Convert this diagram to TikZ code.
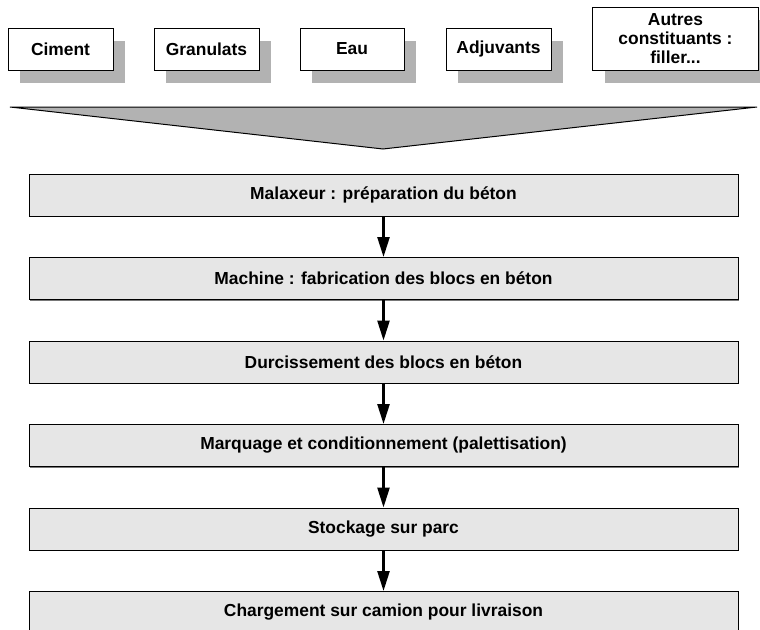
\documentclass[tikz,border=0pt]{standalone}
\usepackage{fontspec}
\setmainfont{Liberation Sans}
\usetikzlibrary{arrows.meta,shadows}
\definecolor{shadowgray}{RGB}{178,178,178}
\definecolor{stepfill}{RGB}{230,230,230}
\definecolor{edgegray}{RGB}{120,120,120}
\tikzset{
  inbox/.style={draw=black, line width=1pt, fill=white, align=center,
    inner sep=0pt, minimum height=42pt,
    font=\fontsize{17.4}{19}\selectfont\bfseries,
    general shadow={shadow xshift=12pt, shadow yshift=-13pt, fill=shadowgray}},
  stepbox/.style={draw=black, line width=1pt, fill=stepfill, align=center,
    inner sep=0pt, minimum width=709pt, minimum height=42pt,
    font=\fontsize{17.4}{19}\selectfont\bfseries,
    general shadow={shadow xshift=1.2pt, shadow yshift=-1.2pt, fill=edgegray}},
  flow/.style={line width=2.5pt, -{Triangle[width=12pt,length=20pt]}},
  funnel/.style={draw=black, line width=1pt, fill=shadowgray}
}
\begin{document}
\begin{tikzpicture}[x=1pt,y=-1pt]
\useasboundingbox (0,0) rectangle (760,629);
% input boxes
\node[inbox, minimum width=105pt] (ci) at (60.5,49) {Ciment};
\node[inbox, minimum width=105pt] (gr) at (206.5,49) {Granulats};
\node[inbox, minimum width=104pt] (ea) at (352,49) {Eau};
\node[inbox, minimum width=105pt] (ad) at (498.5,49) {Adjuvants};
\node[inbox, minimum width=166pt, minimum height=63pt] (au) at (675.5,38.5) {Autres\\constituants :\\filler...};
% funnel
\coordinate (fl) at (10,107);
\coordinate (fr) at (757,107);
\coordinate (fa) at (383,149);
\draw[funnel] (fl) -- (fr) -- (fa) -- cycle;
% process steps
\node[stepbox] (b1) at (383.5,195) {Malaxeur : préparation du béton};
\node[stepbox] (b2) at (383.5,278.5) {Machine : fabrication des blocs en béton};
\node[stepbox] (b3) at (383.5,362) {Durcissement des blocs en béton};
\node[stepbox] (b4) at (383.5,445.5) {Marquage et conditionnement (palettisation)};
\node[stepbox] (b5) at (383.5,529) {Stockage sur parc};
\node[stepbox] (b6) at (383.5,612.5) {Chargement sur camion pour livraison};
% arrows
\draw[flow] (b1.south) -- (b2.north);
\draw[flow] (b2.south) -- (b3.north);
\draw[flow] (b3.south) -- (b4.north);
\draw[flow] (b4.south) -- (b5.north);
\draw[flow] (b5.south) -- (b6.north);
\end{tikzpicture}
\end{document}
